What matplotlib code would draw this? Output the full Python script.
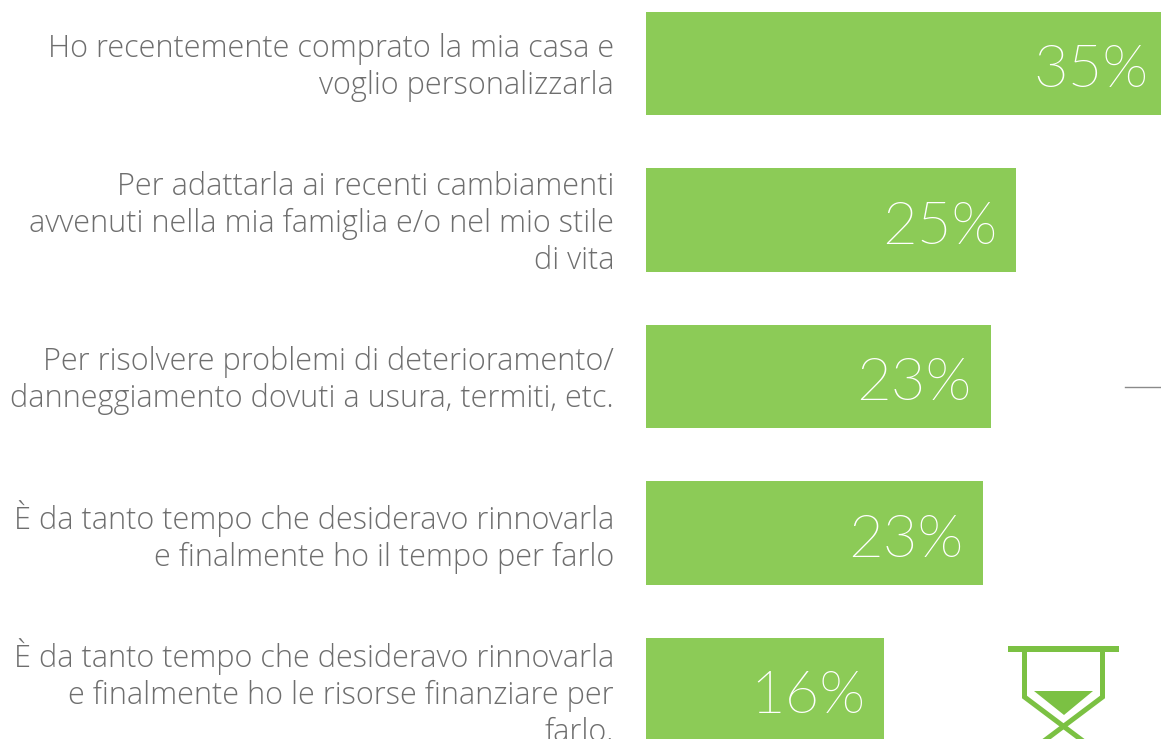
import matplotlib
matplotlib.use('Agg')
import matplotlib.pyplot as plt
from matplotlib.patches import Polygon

# dati
etichette = [
    'Ho recentemente comprato la mia casa e\nvoglio personalizzarla',
    'Per adattarla ai recenti cambiamenti\navvenuti nella mia famiglia e/o nel mio stile\ndi vita',
    'Per risolvere problemi di deterioramento/\ndanneggiamento dovuti a usura, termiti, etc.',
    'È da tanto tempo che desideravo rinnovarla\ne finalmente ho il tempo per farlo',
    'È da tanto tempo che desideravo rinnovarla\ne finalmente ho le risorse finanziare per\nfarlo.',
]
valori = [35, 25.15, 23.45, 22.9, 16.2]
percentuali = ['35%', '25%', '23%', '23%', '16%']
margini = [12, 19, 20, 19, 19]

verde = '#8ccb57'
verde_icona = '#7bc143'
grigio = '#6e6e6e'

W, H = 1161, 739
fig = plt.figure(figsize=(W / 100, H / 100), dpi=100)

# le barre: 0 a x=646 px, 35 al bordo destro
ax = fig.add_axes([646 / W, 0, 515 / W, 1])
posizioni = range(len(valori))
ax.barh(posizioni, valori, height=103.5 / 156.5, color=verde)
ax.set_xlim(0, 35)
ax.set_ylim((H - 63.5) / 156.5, -63.5 / 156.5)
ax.axis('off')

for y, v, et, p, m in zip(posizioni, valori, etichette, percentuali, margini):
    ax.annotate(et, (0, y), xytext=(-32 * 0.72, -2.8), textcoords='offset points',
                ha='right', va='center', fontsize=22.1, color=grigio,
                family='Open Sans', weight=300, linespacing=1.21, annotation_clip=False)
    ax.annotate(p, (v, y), xytext=(-m * 0.72, -5.5), textcoords='offset points',
                ha='right', va='center', fontsize=43, color='white',
                family='Lato', weight=275, annotation_clip=False)

# overlay in pixel per icona e trattino
over = fig.add_axes([0, 0, 1, 1])
over.set_xlim(0, W)
over.set_ylim(H, 0)
over.axis('off')
over.patch.set_alpha(0)

over.plot([1125, 1161], [387, 387], color='#8a8a8a', lw=1)

# clessidra
over.add_patch(Polygon([(1008, 646), (1119, 646), (1119, 652), (1008, 652)], color=verde_icona, lw=0))
over.plot([1024.5, 1024.5, 1095, 1103], [650, 697, 750, 756], color=verde_icona, lw=3.6, solid_joinstyle='miter')
over.plot([1102.5, 1102.5, 1032, 1024], [650, 697, 750, 756], color=verde_icona, lw=3.6, solid_joinstyle='miter')
over.add_patch(Polygon([(1034, 691), (1093, 691), (1064, 715)], color=verde_icona, lw=0))

fig.savefig('out.png', dpi=100)
